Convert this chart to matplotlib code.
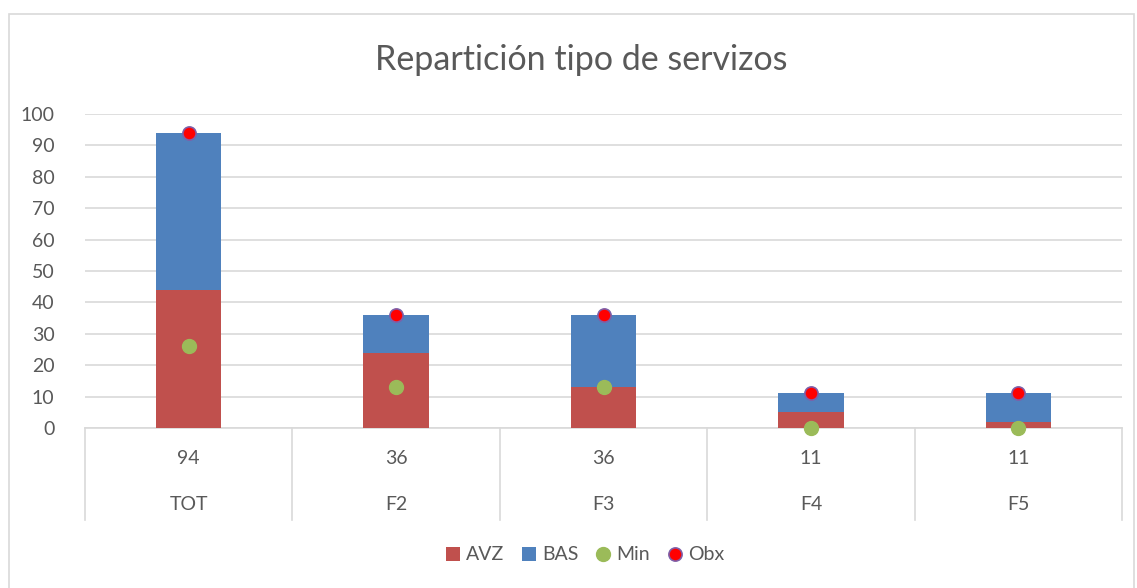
import matplotlib
matplotlib.use("Agg")
import matplotlib.pyplot as plt
import numpy as np
from matplotlib.lines import Line2D
from matplotlib.patches import Patch, Rectangle

plt.rcParams["font.family"] = ["Lato", "DejaVu Sans"]

# ---- Data --------------------------------------------------------------------
categories = ["TOT", "F2", "F3", "F4", "F5"]
top_labels = ["94", "36", "36", "11", "11"]
avz = [44, 24, 13, 5, 2]
bas = [50, 12, 23, 6, 9]
minimo = [26, 13, 13, 0, 0]
obx = [94, 36, 36, 11, 11]

# ---- Colors ------------------------------------------------------------------
RED = "#C0504D"
BLUE = "#4F81BD"
GREEN = "#9BBB59"
TEXT = "#595959"
GRID = "#D9D9D9"

W, H = 1137, 588
fig = plt.figure(figsize=(W / 100, H / 100), dpi=100)
ax = fig.add_axes([85 / W, (H - 428) / H, (1122 - 85) / W, (428 - 114) / H])

x = np.arange(len(categories))
bw = 0.315
ax.bar(x, avz, bw, color=RED, zorder=2)
ax.bar(x, bas, bw, bottom=avz, color=BLUE, zorder=2)
ax.plot(x, minimo, "o", ls="none", color=GREEN, ms=10, mec=GREEN, zorder=3,
        clip_on=False)
ax.plot(x, obx, "o", ls="none", color="#FF0000", ms=9.5, mec="#7F5FA8",
        mew=1.2, zorder=3, clip_on=False)

ax.set_xlim(-0.5, len(categories) - 0.5)
ax.set_ylim(0, 100)
ax.set_yticks(range(0, 101, 10))
ax.yaxis.grid(True, color=GRID, lw=1.2)
ax.set_axisbelow(True)
for s in ax.spines.values():
    s.set_visible(False)
ax.tick_params(axis="y", length=0, labelsize=14, labelcolor=TEXT, pad=22)
ax.set_xticks([])

# ---- Multi-level category axis ------------------------------------------------
trans = ax.get_xaxis_transform()
ax.plot([-0.5, len(categories) - 0.5], [0, 0], color=GRID, lw=1.2,
        transform=trans, clip_on=False, zorder=1)
depth = (520 - 428) / (428 - 114)
for b in np.arange(len(categories) + 1) - 0.5:
    ax.plot([b, b], [0, -depth], color=GRID, lw=1.2, transform=trans,
            clip_on=False)
for i, (t, c) in enumerate(zip(top_labels, categories)):
    ax.text(i, -(459 - 428) / 314, t, transform=trans, ha="center",
            va="center", fontsize=14, color=TEXT)
    ax.text(i, -(505 - 428) / 314, c, transform=trans, ha="center",
            va="center", fontsize=14, color=TEXT)

# ---- Title, legend, border -----------------------------------------------------
fig.text(581 / W, 1 - 60 / H, "Repartición tipo de servizos", ha="center",
         va="center", fontsize=24.5, color=TEXT)

handles = [
    Patch(facecolor=RED, label="AVZ"),
    Patch(facecolor=BLUE, label="BAS"),
    Line2D([], [], marker="o", ls="none", color=GREEN, ms=10, label="Min"),
    Line2D([], [], marker="o", ls="none", color="#FF0000", mec="#7F5FA8",
           mew=1.2, ms=9.5, label="Obx"),
]
fig.legend(handles=handles, loc="center", bbox_to_anchor=(585 / W, 1 - 555 / H),
           ncol=4, frameon=False, fontsize=14, labelcolor=TEXT,
           handlelength=0.75, handleheight=0.75, handletextpad=0.3,
           columnspacing=0.9)

fig.patches.append(Rectangle((9 / W, -0.01), (1134 - 9) / W, 1 - 14 / H + 0.01,
                             transform=fig.transFigure, fill=False,
                             edgecolor=GRID, lw=1.2))

fig.savefig("out.png", dpi=100, facecolor="white")
